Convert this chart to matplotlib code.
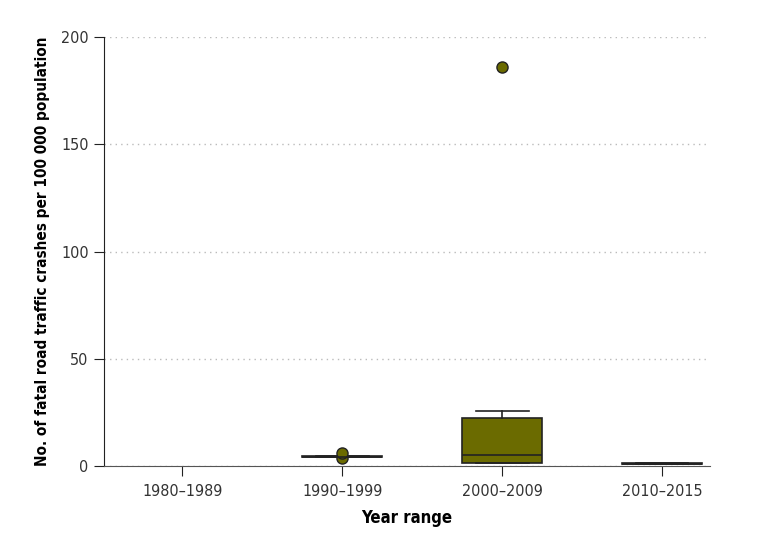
import matplotlib
matplotlib.use("Agg")
import matplotlib.pyplot as plt

plt.rcParams['font.family'] = ['DejaVu Sans']
plt.rcParams['font.stretch'] = 'condensed'

# year ranges and box statistics
categories = ["1980\u20131989", "1990\u20131999", "2000\u20132009", "2010\u20132015"]
has_data = [False, True, True, True]
whislo = [0, 4.0, 1.2, 0.7]
q1 = [0, 4.0, 1.6, 0.8]
med = [0, 4.3, 5.2, 1.0]
q3 = [0, 4.6, 22.4, 1.2]
whishi = [0, 4.6, 25.8, 1.3]
fliers = [[], [3.8, 6.1], [186.0], []]

olive = "#6b6b00"

fig = plt.figure(figsize=(7.71, 5.48), dpi=100, facecolor="white")
ax = fig.add_axes([104 / 771, 1 - 466 / 548, 606 / 771, 429 / 548])

stats = []
positions = []
for i, c in enumerate(categories):
    if not has_data[i]:
        continue
    stats.append(dict(whislo=whislo[i], q1=q1[i], med=med[i], q3=q3[i],
                      whishi=whishi[i], fliers=fliers[i], label=c))
    positions.append(i)

ax.bxp(stats, positions=positions, widths=0.5, capwidths=0.33,
       patch_artist=True, manage_ticks=False,
       boxprops=dict(facecolor=olive, edgecolor="#222222", linewidth=1.2),
       medianprops=dict(color="#222222", linewidth=1.2),
       whiskerprops=dict(color="#222222", linewidth=1.2),
       capprops=dict(color="#222222", linewidth=1.2),
       flierprops=dict(marker="o", markerfacecolor=olive,
                       markeredgecolor="#222222", markersize=8,
                       markeredgewidth=1.0))

ax.set_xlim(-0.49, 3.3)
ax.set_ylim(0, 200)
ax.set_xticks(range(len(categories)))
ax.set_xticklabels(categories)
ax.set_yticks([0, 50, 100, 150, 200])

ax.yaxis.grid(True, linestyle=(0, (1, 3)), color="#bbbbbb", linewidth=1)
ax.set_axisbelow(True)

for s in ["top", "right"]:
    ax.spines[s].set_visible(False)
ax.spines["left"].set_color("#222222")
ax.spines["bottom"].set_color("#555555")
ax.tick_params(axis="both", direction="out", length=7, labelsize=11.5,
               color="#222222", labelcolor="#333333")
ax.tick_params(axis="x", pad=6)
ax.tick_params(axis="y", pad=4)

ax.set_xlabel("Year range", fontsize=12, fontweight="bold", labelpad=7)
ax.set_ylabel("No. of fatal road traffic crashes per 100 000 population",
              fontsize=11, fontweight="bold", labelpad=8)

plt.savefig("out.png", dpi=100, facecolor="white")
plt.close()
